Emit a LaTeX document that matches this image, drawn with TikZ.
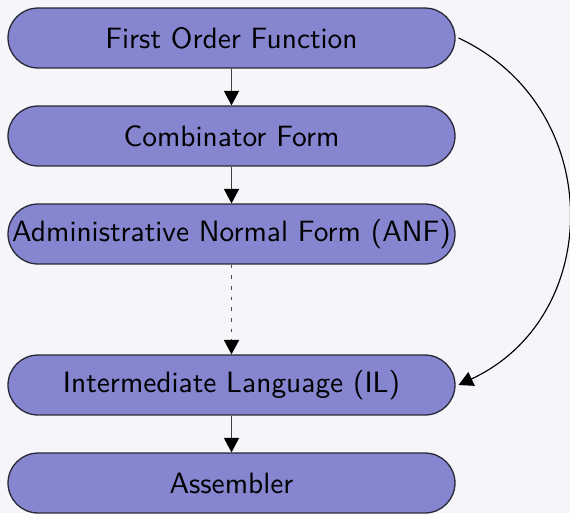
\documentclass[tikz,border=0pt]{standalone}
\usetikzlibrary{arrows.meta}
\definecolor{bgc}{RGB}{246,246,250}
\definecolor{boxfill}{RGB}{133,133,208}
\definecolor{boxline}{RGB}{40,40,55}
\tikzset{
  stage/.style={draw=boxline, line width=0.45pt, fill=boxfill, rounded corners=10.4pt,
    minimum width=155.1pt, minimum height=20.8pt, inner sep=0pt,
    font=\sffamily\fontsize{10.2}{12}\selectfont},
  conn/.style={draw=black!75, line width=0.4pt, -{Triangle[width=5.2pt,length=5pt,color=black]}},
  dotconn/.style={conn, draw=black!70, line width=0.6pt, dash pattern=on 1.3pt off 2.4pt},
}
\begin{document}
\begin{tikzpicture}[x=0.347pt,y=-0.347pt]
\fill[bgc] (0,0) rectangle (570,513);
\useasboundingbox (0,0) rectangle (570,513);
\node[stage] (fof) at (231.5,38) {First Order Function};
\node[stage] (cf) at (231.5,136) {Combinator Form};
\node[stage] (anf) at (231.5,234) {Administrative Normal Form (ANF)};
\node[stage] (il) at (231.5,385) {Intermediate Language (IL)};
\node[stage] (asm) at (231.5,483) {Assembler};
\draw[conn] (fof) -- (cf);
\draw[conn] (cf) -- (anf);
\draw[dotconn] (anf) -- (il);
\draw[conn] (il) -- (asm);
\draw[conn, draw=black] ([xshift=1pt]fof.east) to[out=-25,in=25,looseness=1.2] ([xshift=1pt]il.east);
\end{tikzpicture}
\end{document}
